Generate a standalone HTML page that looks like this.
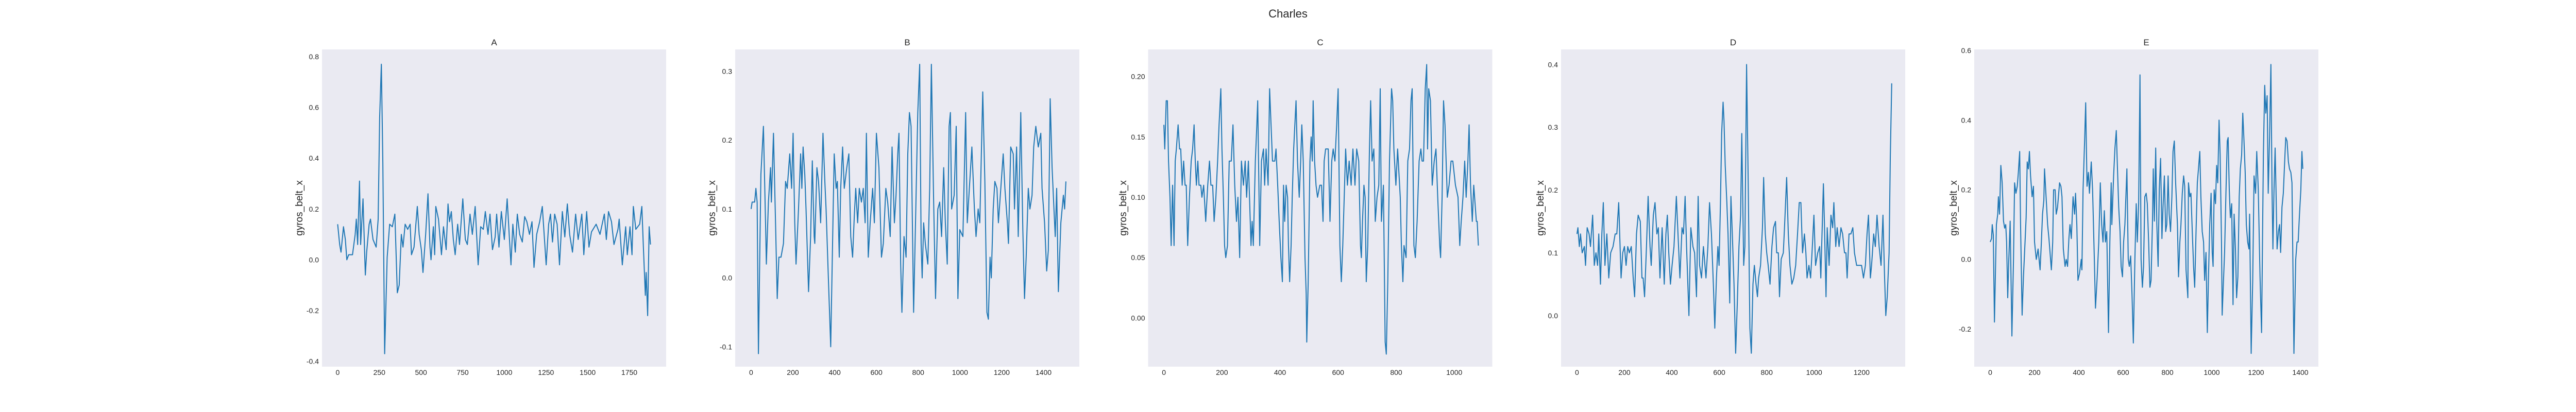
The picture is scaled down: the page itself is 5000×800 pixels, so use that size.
<!DOCTYPE html>
<html><head><meta charset="utf-8"><style>
html,body{margin:0;padding:0;background:#fff;}
svg{display:block;font-family:"Liberation Sans",sans-serif;}
</style></head><body>
<svg id="fig" width="5000" height="800" viewBox="0 0 5000 800" xmlns="http://www.w3.org/2000/svg">
<rect width="5000" height="800" fill="#fff"/>
<text x="2500" y="34" text-anchor="middle" font-size="22" fill="#262626">Charles</text>
</svg>
<script>
const A_x=[0,12,20,35,46,55,66,89,105,112,120,131,138,152,166,174,189,197,212,231,243,252,262,271,282,297,312,328,343,358,369,382,392,405,420,435,443,458,478,489,502,512,528,542,554,560,574,582,589,605,623,635,651,662,671,682,694,705,720,731,751,766,778,794,808,825,843,858,874,886,902,914,929,945,954,968,982,1000,1017,1031,1040,1051,1066,1078,1092,1108,1122,1135,1151,1166,1178,1194,1212,1228,1251,1266,1277,1289,1302,1317,1331,1348,1363,1378,1392,1409,1428,1443,1465,1477,1494,1508,1523,1551,1574,1600,1612,1625,1643,1658,1682,1689,1708,1728,1738,1754,1766,1774,1789,1812,1825,1835,1846,1851,1860,1869,1877];
const A_y=[0.14,0.06,0.03,0.13,0.08,0.0,0.02,0.02,0.1,0.16,0.06,0.31,0.06,0.24,-0.06,0.03,0.14,0.16,0.08,0.05,0.16,0.56,0.77,0.38,-0.37,0.01,0.14,0.13,0.18,-0.13,-0.1,0.1,0.05,0.14,0.12,0.14,0.02,0.05,0.21,0.1,0.04,-0.05,0.1,0.26,0.05,0.0,0.13,0.02,0.21,0.16,0.02,0.13,0.04,0.22,0.15,0.19,0.08,0.02,0.14,0.06,0.24,0.08,0.06,0.18,0.1,0.21,-0.02,0.13,0.12,0.19,0.1,0.18,0.04,0.09,0.18,0.05,0.19,0.08,0.24,0.08,-0.02,0.14,0.03,0.18,0.1,0.07,0.17,0.15,0.1,0.15,-0.03,0.1,0.15,0.21,-0.02,0.14,0.18,0.07,0.18,0.14,-0.02,0.19,0.09,0.22,0.1,0.03,0.18,0.08,0.18,0.02,0.19,0.05,0.11,0.14,0.1,0.18,0.08,0.19,0.15,0.06,0.12,0.16,-0.02,0.13,0.02,0.13,0.02,0.21,0.12,0.14,0.21,0.04,-0.14,-0.05,-0.22,0.13,0.06];
const B_x=[0,5,17,23,29,35,47,59,69,73,83,93,97,107,117,125,133,143,155,165,173,185,194,201,209,215,227,237,243,249,257,263,275,285,293,302,305,315,323,333,344,353,359,371,381,393,398,407,413,422,429,438,446,458,468,477,486,494,501,510,518,528,537,546,552,561,570,582,590,600,612,624,633,645,654,666,675,686,694,702,708,716,722,732,742,750,758,766,778,787,798,807,814,819,826,834,846,855,863,874,883,894,903,912,922,930,939,948,954,960,972,982,990,999,1014,1027,1035,1045,1057,1069,1077,1087,1095,1109,1119,1129,1136,1144,1150,1159,1167,1177,1184,1191,1207,1215,1227,1232,1243,1255,1261,1271,1279,1291,1301,1309,1317,1327,1335,1345,1353,1363,1375,1387,1393,1405,1415,1423,1432,1441,1450,1456,1463,1471,1483,1495,1501,1507];
const B_y=[0.10,0.11,0.11,0.13,0.11,-0.11,0.15,0.22,0.08,0.02,0.11,0.16,0.11,0.21,0.08,-0.03,0.03,0.03,0.05,0.14,0.13,0.18,0.13,0.21,0.08,0.02,0.10,0.18,0.13,0.19,0.15,0.10,-0.02,0.06,0.17,0.06,0.05,0.16,0.14,0.08,0.21,0.14,0.10,-0.01,-0.10,0.10,0.18,0.13,0.14,0.03,0.13,0.19,0.13,0.16,0.18,0.06,0.03,0.09,0.13,0.08,0.13,0.11,0.13,0.08,0.21,0.03,0.08,0.13,0.08,0.21,0.16,0.03,0.05,0.13,0.11,0.06,0.19,0.08,0.12,0.18,0.21,0.02,-0.05,0.06,0.03,0.18,0.24,0.22,-0.05,0.08,0.24,0.31,0.05,0.00,0.08,0.05,0.02,0.13,0.31,0.11,-0.03,0.10,0.11,0.06,0.16,0.08,0.02,0.22,0.24,0.10,0.12,0.22,-0.03,0.07,0.06,0.24,0.08,0.13,0.19,0.10,0.06,0.10,0.08,0.27,0.14,-0.05,-0.06,0.03,0.00,0.10,0.14,0.13,0.08,0.11,0.18,0.13,0.08,0.05,0.19,0.18,0.10,0.19,0.06,0.24,0.07,-0.03,0.03,0.13,0.10,0.12,0.19,0.22,0.19,0.21,0.13,0.08,0.01,0.04,0.26,0.16,0.10,0.06,0.13,-0.02,0.08,0.12,0.10,0.14];
const C_x=[0,3,8,12,16,21,25,30,35,39,43,49,54,58,63,68,73,77,82,88,94,99,104,108,112,117,121,127,131,137,144,151,157,162,168,173,179,185,190,196,200,205,209,213,219,225,232,238,244,250,255,261,267,274,280,285,291,300,304,308,315,320,323,330,336,343,347,352,359,364,369,374,382,386,392,397,403,408,412,416,421,426,429,433,438,442,447,455,460,466,471,475,480,486,490,492,497,503,507,511,514,519,524,529,537,543,548,552,557,566,572,578,583,589,595,600,606,611,616,621,626,632,638,645,651,658,664,671,677,680,684,689,693,697,702,708,712,717,723,728,734,740,745,749,756,762,766,771,777,784,788,792,799,805,814,818,823,827,834,840,846,851,855,861,866,872,879,885,889,894,900,905,908,912,918,924,931,937,943,950,953,958,963,968,972,976,982,989,995,1004,1013,1019,1024,1030,1036,1041,1047,1051,1056,1062,1067,1070,1076,1079,1083];
const C_y=[0.16,0.14,0.18,0.18,0.13,0.10,0.06,0.11,0.06,0.13,0.14,0.16,0.14,0.14,0.11,0.13,0.11,0.11,0.06,0.10,0.13,0.14,0.16,0.13,0.11,0.13,0.11,0.11,0.10,0.11,0.08,0.11,0.13,0.11,0.11,0.08,0.10,0.13,0.16,0.19,0.14,0.10,0.06,0.05,0.06,0.13,0.13,0.16,0.11,0.08,0.10,0.05,0.13,0.11,0.13,0.10,0.13,0.06,0.08,0.06,0.13,0.16,0.18,0.06,0.13,0.14,0.11,0.14,0.11,0.19,0.16,0.13,0.13,0.14,0.11,0.08,0.05,0.03,0.11,0.08,0.11,0.10,0.06,0.03,0.06,0.10,0.14,0.18,0.13,0.10,0.13,0.16,0.13,0.05,0.02,-0.02,0.03,0.13,0.15,0.13,0.18,0.13,0.11,0.10,0.11,0.11,0.08,0.13,0.14,0.14,0.08,0.13,0.14,0.13,0.16,0.19,0.06,0.03,0.06,0.10,0.14,0.11,0.13,0.11,0.14,0.11,0.14,0.13,0.06,0.05,0.08,0.11,0.10,0.03,0.06,0.14,0.18,0.13,0.14,0.08,0.10,0.11,0.19,0.08,0.11,-0.02,-0.03,0.03,0.13,0.19,0.18,0.14,0.11,0.14,0.10,0.06,0.03,0.06,0.05,0.13,0.14,0.18,0.19,0.06,0.05,0.08,0.13,0.14,0.13,0.13,0.19,0.21,0.14,0.19,0.18,0.11,0.13,0.14,0.10,0.06,0.05,0.10,0.18,0.16,0.13,0.10,0.11,0.13,0.13,0.11,0.10,0.06,0.08,0.10,0.13,0.10,0.13,0.16,0.11,0.08,0.11,0.10,0.08,0.08,0.06];
const D_x=[0,4,10,15,22,31,36,43,51,57,66,73,80,87,92,99,105,111,118,126,134,142,152,161,168,176,180,186,193,200,207,214,221,229,237,243,251,258,267,274,279,285,293,300,308,313,322,329,337,343,350,359,368,375,381,387,394,401,409,419,427,434,443,449,456,462,472,480,489,496,504,511,517,525,533,544,552,559,567,575,581,588,594,599,605,610,616,620,625,632,637,644,649,655,662,669,676,683,690,695,703,708,715,722,729,735,742,748,755,761,766,774,782,787,794,800,806,814,822,829,837,842,849,854,861,870,875,884,891,898,906,914,922,930,937,944,951,959,965,970,978,985,991,999,1006,1015,1023,1028,1039,1043,1050,1055,1063,1071,1078,1083,1091,1097,1105,1113,1120,1128,1134,1139,1147,1155,1163,1170,1179,1189,1200,1208,1216,1223,1229,1237,1242,1251,1258,1265,1274,1282,1290,1297,1302,1308,1316,1321,1327];
const D_y=[0.13,0.14,0.11,0.13,0.10,0.11,0.08,0.14,0.13,0.11,0.16,0.08,0.10,0.08,0.13,0.05,0.13,0.18,0.08,0.13,0.06,0.10,0.11,0.13,0.13,0.18,0.13,0.06,0.10,0.11,0.08,0.11,0.10,0.11,0.06,0.03,0.13,0.16,0.15,0.06,0.06,0.03,0.11,0.19,0.11,0.08,0.16,0.18,0.13,0.14,0.06,0.14,0.05,0.13,0.16,0.10,0.05,0.08,0.11,0.19,0.12,0.06,0.14,0.13,0.19,0.11,0.00,0.14,0.11,0.10,0.03,0.19,0.08,0.06,0.11,0.06,0.11,0.18,0.13,0.05,-0.02,0.06,0.11,0.08,0.18,0.29,0.34,0.31,0.24,0.18,0.13,0.02,0.19,0.13,0.05,-0.06,0.02,0.11,0.16,0.29,0.08,0.11,0.40,0.21,-0.02,-0.06,0.05,0.08,0.05,0.03,0.06,0.08,0.14,0.22,0.13,0.10,0.08,0.05,0.11,0.14,0.15,0.10,0.10,0.03,0.09,0.10,0.14,0.22,0.13,0.08,0.05,0.06,0.08,0.13,0.18,0.18,0.10,0.13,0.10,0.06,0.08,0.06,0.10,0.16,0.08,0.10,0.11,0.06,0.21,0.15,0.03,0.14,0.08,0.16,0.14,0.18,0.11,0.14,0.11,0.14,0.13,0.10,0.10,0.06,0.13,0.13,0.14,0.10,0.08,0.08,0.08,0.06,0.08,0.13,0.16,0.06,0.08,0.13,0.11,0.16,0.11,0.08,0.16,0.06,0.00,0.03,0.10,0.25,0.37];
const E_x=[0,6,9,14,19,28,34,37,42,48,54,60,65,70,74,79,84,90,98,105,110,116,122,127,133,137,144,150,158,162,167,172,177,182,189,195,200,208,216,225,231,236,242,245,253,259,265,270,276,282,286,293,298,304,313,319,324,330,338,343,349,355,360,366,374,381,385,391,396,403,411,414,419,426,431,437,443,448,456,462,470,475,482,490,497,503,509,515,520,526,534,540,546,549,557,563,569,574,580,586,591,597,602,608,617,623,628,634,640,646,653,659,664,670,676,681,687,692,698,704,709,715,721,726,732,736,741,747,752,758,763,769,775,780,786,792,797,803,808,814,820,825,831,837,845,850,856,861,867,873,878,884,892,895,901,906,912,918,923,929,935,940,946,951,957,963,968,974,980,985,991,997,1002,1006,1011,1017,1022,1027,1033,1038,1044,1047,1053,1058,1064,1070,1074,1079,1084,1090,1096,1101,1107,1112,1118,1124,1129,1135,1140,1145,1151,1156,1162,1168,1171,1178,1185,1191,1198,1203,1210,1218,1225,1233,1239,1244,1250,1255,1261,1267,1272,1276,1281,1286,1290,1295,1301,1306,1311,1317,1323,1329,1334,1340,1346,1351,1357,1362,1368,1371,1379,1385,1390,1396,1402,1407,1411];
const E_y=[0.05,0.06,0.10,0.07,-0.18,0.10,0.13,0.18,0.13,0.27,0.22,0.11,0.09,0.10,0.05,-0.11,0.00,0.11,-0.22,0.00,0.22,0.19,0.21,0.25,0.31,0.10,-0.16,-0.05,0.06,0.12,0.28,0.26,0.31,0.24,0.18,0.21,0.05,0.00,0.03,-0.03,0.05,0.13,0.17,0.26,0.17,0.10,0.06,0.02,-0.03,0.05,0.20,0.20,0.13,0.15,0.22,0.21,0.18,0.03,-0.02,0.00,-0.02,0.06,0.10,0.06,0.18,0.13,0.19,0.10,-0.06,-0.04,0.00,-0.03,0.20,0.34,0.45,0.21,0.25,0.19,0.28,0.20,0.00,-0.14,-0.06,0.05,0.22,0.10,0.05,0.14,0.05,0.08,-0.21,0.05,0.22,0.10,0.24,0.32,0.37,0.27,0.15,0.08,-0.02,-0.05,0.05,0.10,0.26,0.00,-0.02,0.01,-0.10,-0.24,0.00,0.16,0.05,0.16,0.53,0.00,-0.08,-0.02,0.18,0.19,0.16,0.05,-0.08,-0.06,0.10,0.26,0.11,0.32,0.10,-0.02,0.20,0.29,0.06,0.15,0.24,0.08,0.10,0.24,0.13,0.08,0.18,0.31,0.34,0.22,0.10,-0.05,0.05,0.10,0.19,0.24,0.21,-0.03,-0.11,0.22,0.18,0.19,0.08,-0.02,-0.08,0.08,0.22,0.26,0.31,0.18,0.08,0.05,-0.06,0.02,-0.21,-0.06,0.10,0.19,0.02,-0.02,0.20,0.16,0.27,0.22,0.40,0.30,0.05,-0.16,-0.06,0.02,0.19,0.34,0.35,0.20,0.12,0.16,-0.13,0.13,0.03,-0.11,-0.05,0.18,0.26,0.30,0.42,0.35,0.25,0.10,0.05,0.03,0.13,-0.27,-0.06,0.24,0.19,0.31,0.20,-0.05,-0.21,0.30,0.50,0.42,0.47,0.19,0.35,0.56,0.20,0.03,0.20,0.32,0.20,0.03,0.08,0.10,0.02,0.15,0.19,0.28,0.35,0.34,0.28,0.26,0.25,0.22,-0.10,-0.27,0.00,0.05,0.05,0.13,0.20,0.31,0.26];
const A_yt=["-0.4","-0.2","0.0","0.2","0.4","0.6","0.8"];
const B_yt=["-0.1","0.0","0.1","0.2","0.3"];
const C_yt=["0.00","0.05","0.10","0.15","0.20"];
const D_yt=["0.0","0.1","0.2","0.3","0.4"];
const E_yt=["-0.2","0.0","0.2","0.4","0.6"];
const A_xt=[0,250,500,750,1000,1250,1500,1750];
const B_xt=[0,200,400,600,800,1000,1200,1400];
const C_xt=[0,200,400,600,800,1000];
const D_xt=[0,200,400,600,800,1000,1200];
const E_xt=[0,200,400,600,800,1000,1200,1400];

const NS="http://www.w3.org/2000/svg";
const svg=document.getElementById('fig');
function mk(tag,attrs,parent){const e=document.createElementNS(NS,tag);for(const k in attrs)e.setAttribute(k,attrs[k]);(parent||svg).appendChild(e);return e;}

const panels=[
 {t:"A",L:625,R:1293,xd:[-94,1971],yd:[-0.421,0.8284],xs:A_x,ys:A_y,yt:A_yt,xt:A_xt,lx:582},
 {t:"B",L:1427,R:2095,xd:[-76.2,1571.5],yd:[-0.1289,0.3316],xs:B_x,ys:B_y,yt:B_yt,xt:B_xt,lx:1383},
 {t:"C",L:2228.5,R:2896.5,xd:[-54.3,1130.9],yd:[-0.0404,0.2225],xs:C_x,ys:C_y,yt:C_yt,xt:C_xt,lx:2181},
 {t:"D",L:3030,R:3698,xd:[-67.1,1383.9],yd:[-0.0814,0.424],xs:D_x,ys:D_y,yt:D_yt,xt:D_xt,lx:2991},
 {t:"E",L:3832,R:4500,xd:[-72.1,1481.4],yd:[-0.308,0.603],xs:E_x,ys:E_y,yt:E_yt,xt:E_xt,lx:3793}
];
const T=96,B=712;
panels.forEach(p=>{
  const g=mk('g',{});
  
  
  const X=v=>p.L+(v-p.xd[0])/(p.xd[1]-p.xd[0])*(p.R-p.L);
  const Y=v=>B-(v-p.yd[0])/(p.yd[1]-p.yd[0])*(B-T);
  const bg=mk('rect',{x:p.L,y:T,width:p.R-p.L,height:B-T,fill:'#eaeaf2'},g);
  
  
  const tt=mk('text',{x:(p.L+p.R)/2,y:88,'text-anchor':'middle','font-size':17,fill:'#262626'},g);
  tt.textContent=p.t;
  
  
  const yl=mk('text',{x:p.lx,y:404,'text-anchor':'middle','font-size':19,fill:'#262626',transform:`rotate(-90 ${p.lx} 404)`,'dominant-baseline':'middle'},g);
  yl.textContent="gyros_belt_x";
  
  
  p.yt.forEach(s=>{
    const e=mk('text',{x:p.L-6,y:Y(parseFloat(s))+5,'text-anchor':'end','font-size':14,fill:'#262626'},g);
    e.textContent=s;
    
    
  });
  p.xt.forEach(v=>{
    const e=mk('text',{x:X(v),y:B+16,'text-anchor':'middle','font-size':14,fill:'#262626'},g);
    e.textContent=String(v);
    
    
  });
  let d='';
  p.xs.forEach((v,i)=>{d+=(i?'L':'M')+X(v).toFixed(1)+' '+Y(p.ys[i]).toFixed(1);});
  const ln=mk('path',{d:d,fill:'none',stroke:'#1f77b4','stroke-width':2,'stroke-linejoin':'round'},g);
  
  
});
</script>
</body></html>
